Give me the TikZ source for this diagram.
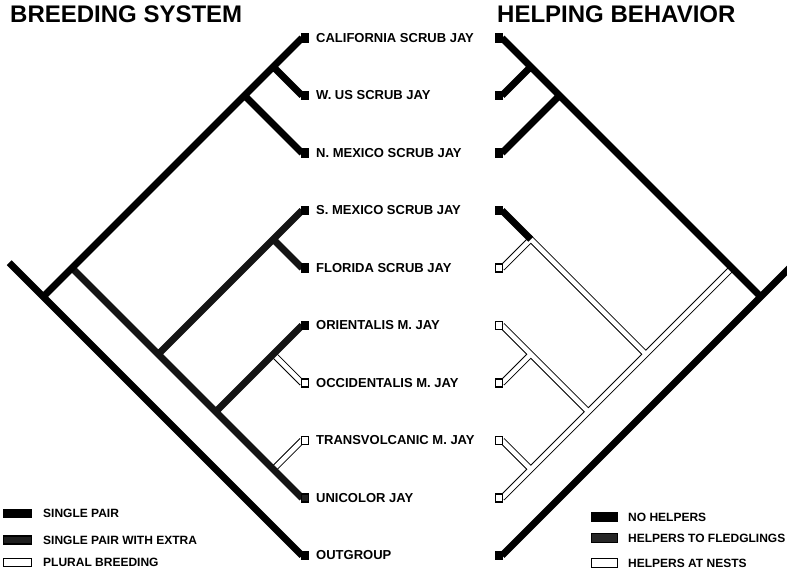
\documentclass[tikz,border=0pt]{standalone}
\usepackage{fontspec}
\setmainfont{Liberation Sans}
\begin{document}
\begin{tikzpicture}[x=1pt,y=-1pt,
  branch/.style={line width=7pt},
  extrabranch/.style={line width=7pt, draw=black!92},
  pluralbranch/.style={draw=white, line width=4.6pt, preaction={draw=black, line width=6.4pt}},
  tipbox/.style={draw=black, line width=1.2pt, minimum width=7pt, minimum height=8pt, inner sep=0pt},
  keybox/.style={draw=black, line width=1.2pt, minimum width=28pt, minimum height=8pt, inner sep=0pt},
  pairbox/.style={fill=black},
  extrabox/.style={fill=black!88},
  pluralbox/.style={fill=white},
  nonebox/.style={fill=black},
  fledgebox/.style={fill=black!85},
  nestbox/.style={fill=white},
  taxon/.style={anchor=west, inner sep=0pt, font=\bfseries\fontsize{13}{15}\selectfont},
  keytext/.style={anchor=west, inner sep=0pt, font=\bfseries\fontsize{12}{14}\selectfont},
  heading/.style={anchor=base west, inner sep=0pt, font=\bfseries\fontsize{24}{28}\selectfont}]
\useasboundingbox (0,0) rectangle (787,569);

% titles
\node[heading] (btitle) at (10,23) {BREEDING SYSTEM};
\node[heading] (htitle) at (497,23) {HELPING BEHAVIOR};

% tips
\foreach \i/\y in {0/38,1/95.5,2/153,3/210.5,4/268,5/325.5,6/383,7/440.5,8/498,9/555.5}{
  \coordinate (b\i) at (302,\y);
  \coordinate (h\i) at (502,\y);
}

% breeding system tree
\coordinate (b01) at (273.25,66.75);
\coordinate (b02) at (244.5,95.5);
\coordinate (b34) at (273.25,239.25);
\coordinate (b56) at (273.25,354.25);
\coordinate (b78) at (273.25,469.25);
\coordinate (b58) at (215.75,411.75);
\coordinate (b38) at (158.25,354.25);
\coordinate (b08) at (72,268);
\coordinate (broot) at (43.25,296.75);
\coordinate (bstem) at (9.25,262.75);

\draw[pluralbranch] (b6) -- (b56) (b7) -- (b78);
\draw[extrabranch] (b08) -- (b38) -- (b58) -- (b78) -- (b8)
  (b3) -- (b34) -- (b38) (b4) -- (b34) (b5) -- (b56) -- (b58);
\draw[branch] (b0) -- (b01) -- (b02) -- (b08) -- (broot)
  (b1) -- (b01) (b2) -- (b02) (b9) -- (broot) -- (bstem);

% helping behavior tree
\coordinate (h01) at (530.75,66.75);
\coordinate (h02) at (559.5,95.5);
\coordinate (h34) at (530.75,239.25);
\coordinate (h56) at (530.75,354.25);
\coordinate (h78) at (530.75,469.25);
\coordinate (h58) at (588.25,411.75);
\coordinate (h38) at (645.75,354.25);
\coordinate (h08) at (732,268);
\coordinate (hroot) at (760.75,296.75);
\coordinate (hstem) at (794.75,262.75);

\draw[pluralbranch] (h8) -- (h78) -- (h58) -- (h38) -- (h08)
  (h7) -- (h78) (h5) -- (h56) -- (h58) (h6) -- (h56) (h4) -- (h34) -- (h38);
\draw[branch] (h0) -- (h01) -- (h02) -- (h08) -- (hroot)
  (h1) -- (h01) (h2) -- (h02) (h3) -- (h34) (h9) -- (hroot) -- (hstem);

% tip boxes and names
\foreach \i/\y/\bs/\hs/\name in {
  0/38/pairbox/nonebox/CALIFORNIA SCRUB JAY,
  1/95.5/pairbox/nonebox/W. US SCRUB JAY,
  2/153/pairbox/nonebox/N. MEXICO SCRUB JAY,
  3/210.5/pairbox/nonebox/S. MEXICO SCRUB JAY,
  4/268/pairbox/nestbox/FLORIDA SCRUB JAY,
  5/325.5/pairbox/nestbox/ORIENTALIS M. JAY,
  6/383/pluralbox/nestbox/OCCIDENTALIS M. JAY,
  7/440.5/pluralbox/nestbox/TRANSVOLCANIC M. JAY,
  8/498/extrabox/nestbox/UNICOLOR JAY,
  9/555.5/pairbox/nonebox/OUTGROUP}{
  \node[tipbox,\bs] (bbox\i) at (305,\y) {};
  \node[tipbox,\hs] (hbox\i) at (499,\y) {};
  \node[taxon] (name\i) at (316,\y) {\name};
}

% legends
\node[keybox,pairbox] (bkey1) at (17.5,513.5) {};
\node[keytext] (bkeyt1) at (43,513.5) {SINGLE PAIR};
\node[keybox,extrabox] (bkey2) at (17.5,540) {};
\node[keytext] (bkeyt2) at (43,540) {SINGLE PAIR WITH EXTRA};
\node[keybox,pluralbox] (bkey3) at (17.5,562.5) {};
\node[keytext] (bkeyt3) at (43,562.5) {PLURAL BREEDING};

\node[keybox,nonebox,minimum width=26pt,minimum height=9pt] (hkey1) at (604.5,517) {};
\node[keytext] (hkeyt1) at (628,517) {NO HELPERS};
\node[keybox,fledgebox,minimum width=26pt,minimum height=9pt] (hkey2) at (604.5,538) {};
\node[keytext] (hkeyt2) at (628,538) {HELPERS TO FLEDGLINGS};
\node[keybox,nestbox,minimum width=26pt,minimum height=9pt] (hkey3) at (604.5,563) {};
\node[keytext] (hkeyt3) at (628,563) {HELPERS AT NESTS};
\end{tikzpicture}
\end{document}
